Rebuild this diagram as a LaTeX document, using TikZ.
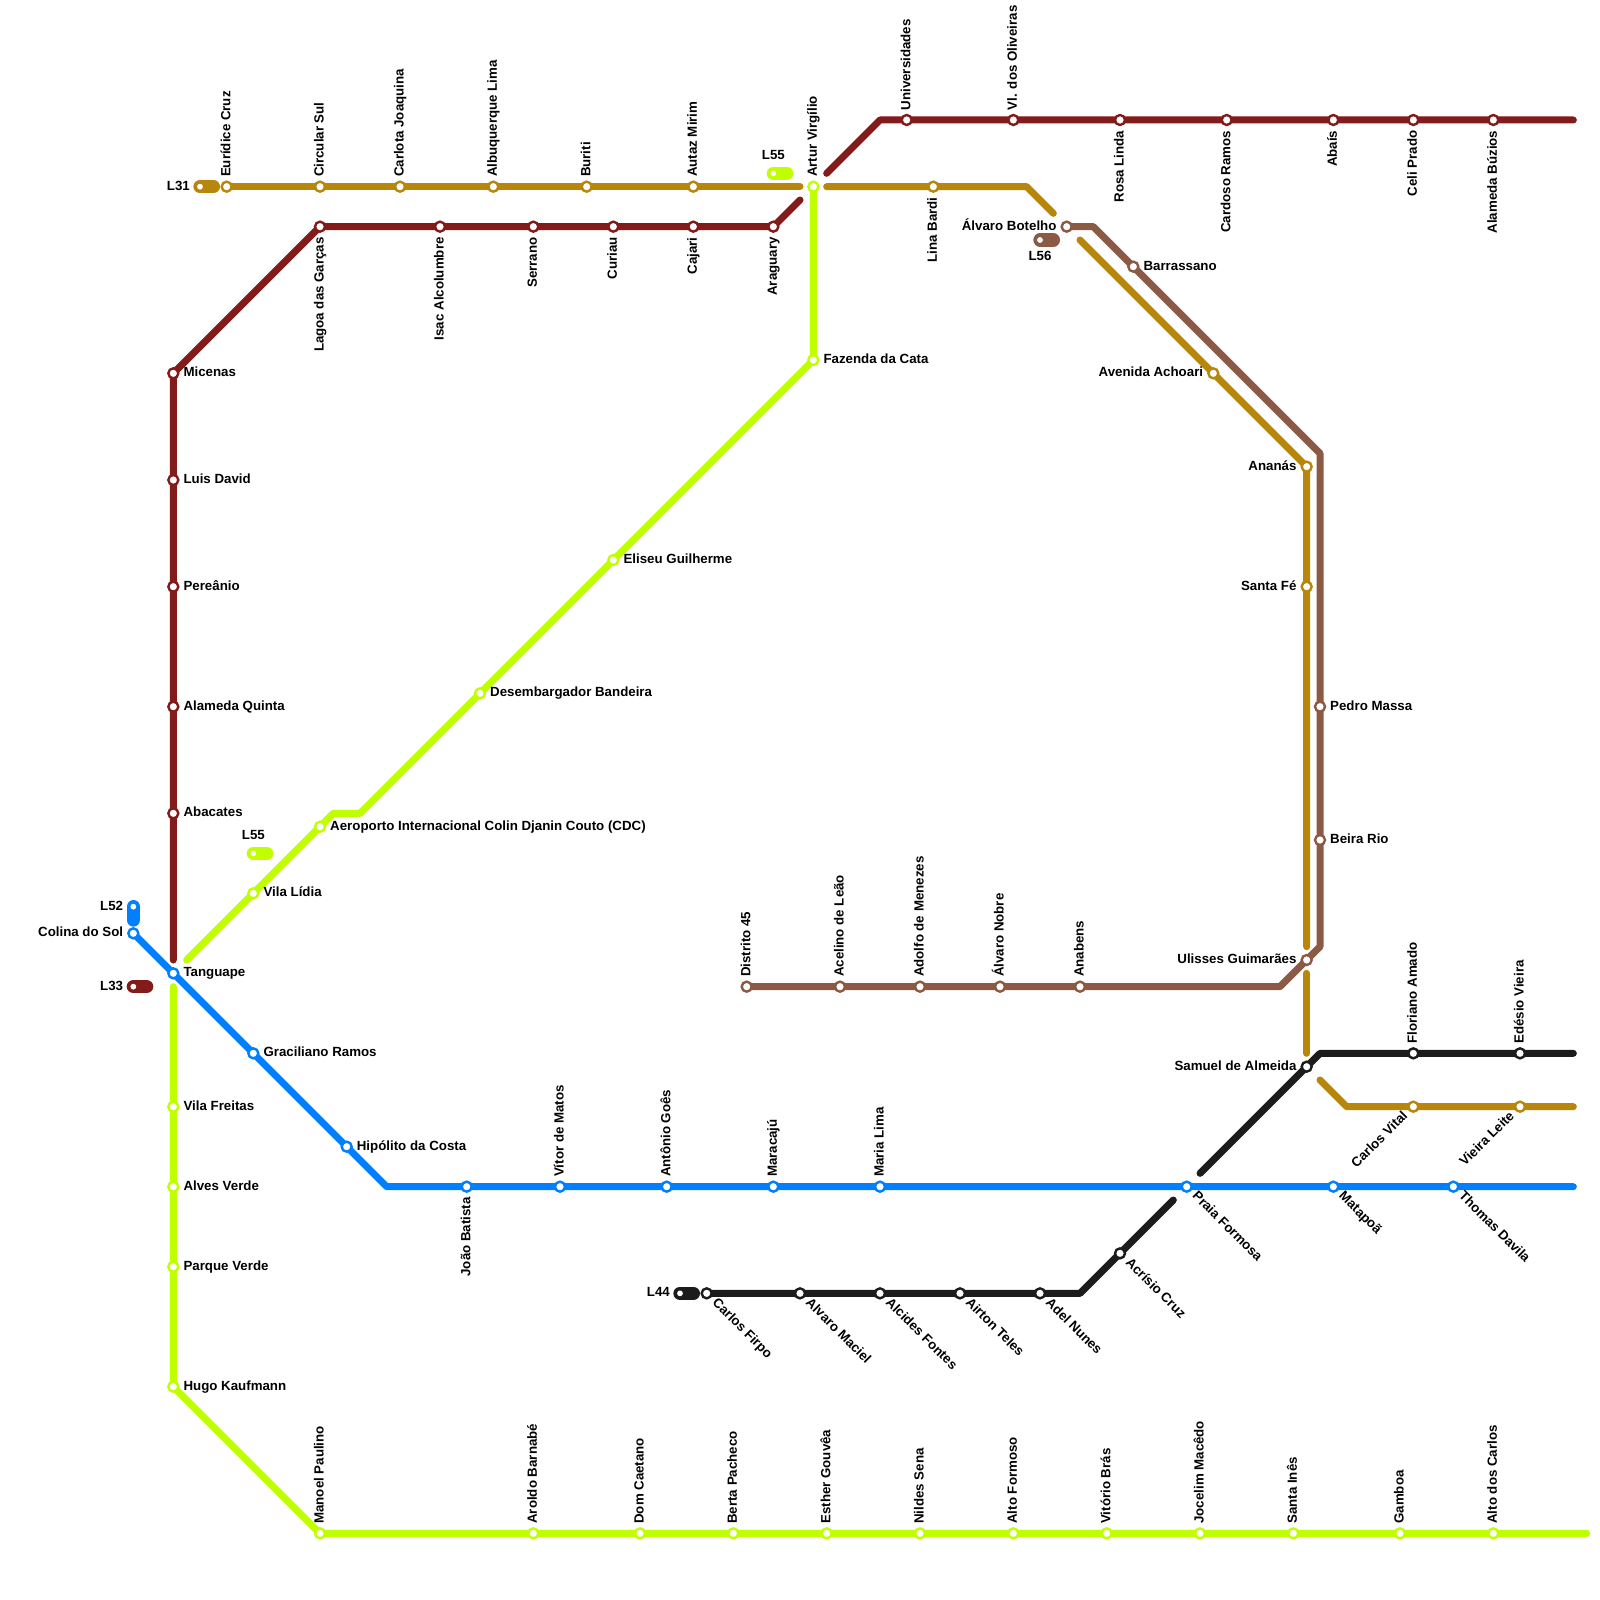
\documentclass[tikz,border=0pt]{standalone}
\usepackage{fontspec}
\setmainfont{Liberation Sans}
\usepackage{xcolor}
\usetikzlibrary{backgrounds}

\definecolor{railgold}{HTML}{B8860B}
\definecolor{railred}{HTML}{841B1B}
\definecolor{raillime}{HTML}{BFFF00}
\definecolor{railblue}{HTML}{007FFF}
\definecolor{railbrown}{HTML}{8B5A44}
\definecolor{railblack}{HTML}{1C1C1C}

\tikzset{
  rail/.style={draw=#1,line width=7pt,line cap=round,line join=round},
  pill/.style={draw=#1,line width=13.33pt,line cap=round},
  stn/.style={circle,fill=white,draw=#1,line width=2.4pt,minimum size=10pt,inner sep=0pt},
  dot/.style={circle,fill=white,minimum size=5.8pt,inner sep=0pt},
  txt/.style={font=\fontsize{13.3}{15}\selectfont\bfseries,inner sep=0pt,text=black},
  lblR/.style={txt,xshift=10pt,yshift=-3.6pt,anchor=base west},
  lblL/.style={txt,xshift=-10pt,yshift=-3.6pt,anchor=base east},
  lblU/.style={txt,xshift=3.6pt,yshift=9.5pt,rotate=90,anchor=base west},
  lblD/.style={txt,xshift=3.6pt,yshift=-10.5pt,rotate=90,anchor=base east},
  lblSE/.style={txt,xshift=5pt,yshift=-10pt,rotate=-45,anchor=base west},
  lblSW/.style={txt,xshift=-5pt,yshift=-10pt,rotate=45,anchor=base east},
}

\newcommand{\stops}[2]{%
  \foreach \x/\y/\nm/\dir/\txt in {#2} {
    \node[stn=#1] (\nm) at (\x,\y) {};
    \node[\dir] (\nm-t) at (\x,\y) {\txt};
  }}

\begin{document}
\begin{tikzpicture}[x=13.333pt,y=-13.333pt]
  \useasboundingbox (0,0) rectangle (120,120);

  \stops{railgold}{17/14/euri/lblU/Eurídice Cruz, 24/14/circ/lblU/Circular Sul,
    30/14/carl/lblU/Carlota Joaquina, 37/14/albu/lblU/Albuquerque Lima,
    44/14/buri/lblU/Buriti, 52/14/auta/lblU/Autaz Mirim,
    70/14/lina/lblD/Lina Bardi, 91/28/acho/lblL/Avenida Achoari,
    98/35/anan/lblL/Ananás, 98/44/sfe/lblL/Santa Fé,
    106/83/cvit/lblSW/Carlos Vital, 114/83/vlei/lblSW/Vieira Leite}

  \stops{railred}{13/61/abac/lblR/Abacates, 13/53/aqui/lblR/Alameda Quinta,
    13/44/pere/lblR/Pereânio, 13/36/ldav/lblR/Luis David, 13/28/mice/lblR/Micenas,
    24/17/lago/lblD/Lagoa das Garças, 33/17/isac/lblD/Isac Alcolumbre,
    40/17/serr/lblD/Serrano, 46/17/curi/lblD/Curiau, 52/17/caja/lblD/Cajari,
    58/17/arag/lblD/Araguary, 68/9/univ/lblU/Universidades,
    76/9/voli/lblU/Vl. dos Oliveiras, 84/9/rosa/lblD/Rosa Linda,
    92/9/card/lblD/Cardoso Ramos, 100/9/abai/lblD/Abaís,
    106/9/celi/lblD/Celi Prado, 112/9/abuz/lblD/Alameda Búzios}

  \stops{raillime}{19/67/vlid/lblR/Vila Lídia,
    24/62/aero/lblR/Aeroporto Internacional Colin Djanin Couto (CDC),
    36/52/dese/lblR/Desembargador Bandeira, 46/42/elis/lblR/Eliseu Guilherme,
    61/27/faze/lblR/Fazenda da Cata, 61/14/artu/lblU/Artur Virgílio,
    13/83/vfre/lblR/Vila Freitas, 13/89/aver/lblR/Alves Verde,
    13/95/pver/lblR/Parque Verde, 13/104/hugo/lblR/Hugo Kaufmann,
    24/115/mano/lblU/Manoel Paulino, 40/115/arol/lblU/Aroldo Barnabé,
    48/115/dcae/lblU/Dom Caetano, 55/115/bert/lblU/Berta Pacheco,
    62/115/esth/lblU/Esther Gouvêa, 69/115/nild/lblU/Nildes Sena,
    76/115/afor/lblU/Alto Formoso, 83/115/vito/lblU/Vitório Brás,
    90/115/joce/lblU/Jocelim Macêdo, 97/115/sine/lblU/Santa Inês,
    105/115/gamb/lblU/Gamboa, 112/115/acar/lblU/Alto dos Carlos}

  \stops{railblue}{10/70/coli/lblL/Colina do Sol, 13/73/tang/lblR/Tanguape,
    19/79/grac/lblR/Graciliano Ramos, 26/86/hipo/lblR/Hipólito da Costa,
    35/89/jbat/lblD/João Batista, 42/89/vmat/lblU/Vítor de Matos,
    50/89/agoe/lblU/Antônio Goês, 58/89/mara/lblU/Maracajú,
    66/89/mlim/lblU/Maria Lima, 89/89/prai/lblSE/Praia Formosa,
    100/89/mata/lblSE/Matapoã, 109/89/thom/lblSE/Thomas Davila}

  \stops{railbrown}{80/17/abot/lblL/Álvaro Botelho, 85/20/barr/lblR/Barrassano,
    99/53/pmas/lblR/Pedro Massa, 99/63/beir/lblR/Beira Rio,
    98/72/ulis/lblL/Ulisses Guimarães, 81/74/anab/lblU/Anabens,
    75/74/anob/lblU/Álvaro Nobre, 69/74/adol/lblU/Adolfo de Menezes,
    63/74/acel/lblU/Acelino de Leão, 56/74/dist/lblU/Distrito 45}

  \stops{railblack}{53/97/cfir/lblSE/Carlos Firpo, 60/97/amac/lblSE/Alvaro Maciel,
    66/97/afon/lblSE/Alcides Fontes, 72/97/atel/lblSE/Airton Teles,
    78/97/anun/lblSE/Adel Nunes, 84/94/acri/lblSE/Acrísio Cruz,
    98/80/samu/lblL/Samuel de Almeida, 106/79/flor/lblU/Floriano Amado,
    114/79/edes/lblU/Edésio Vieira}

  % free ends and bends
  \foreach \x/\y/\nm in {60/14/g1, 62/14/g2, 77/14/g3, 79/16/g4, 81/18/g5, 98/71/g6,
      98/73/g7, 98/79/g8, 99/81/g9, 101/83/g10, 118/83/g11,
      13/72/r1, 60/15/r2, 62/13/r3, 66/9/r4, 118/9/r5,
      14/72/l1, 25/61/l2, 27/61/l3, 13/74/l4, 119/115/l5,
      29/89/b1, 118/89/b2,
      82/17/m1, 99/34/m2, 99/71/m3, 96/74/m4,
      81/97/k1, 88/90/k2, 90/88/k3, 99/79/k4, 118/79/k5}
    \coordinate (\nm) at (\x,\y);

  % line chips
  \node[dot] (c31) at (15,14) {};
  \coordinate (c31e) at (16,14);
  \node[lblL] (c31-t) at (c31) {L31};
  \node[dot] (c33) at (10,74) {};
  \coordinate (c33e) at (11,74);
  \node[lblL] (c33-t) at (c33) {L33};
  \node[dot] (c44) at (51,97) {};
  \coordinate (c44e) at (52,97);
  \node[lblL] (c44-t) at (c44) {L44};
  \node[dot] (c52) at (10,68) {};
  \coordinate (c52e) at (10,69);
  \node[lblL] (c52-t) at (c52) {L52};
  \node[dot] (c55a) at (19,64) {};
  \coordinate (c55ae) at (20,64);
  \node[txt,anchor=base,yshift=14pt] (c55a-t) at (c55a) {L55};
  \node[dot] (c55b) at (58,13) {};
  \coordinate (c55be) at (59,13);
  \node[txt,anchor=base,yshift=14pt] (c55b-t) at (c55b) {L55};
  \node[dot] (c56) at (78,18) {};
  \coordinate (c56e) at (79,18);
  \node[txt,anchor=base,yshift=-20pt] (c56-t) at (c56) {L56};

  \begin{scope}[on background layer]
    \draw[rail=railgold] (euri.center) -- (circ.center) -- (carl.center) -- (albu.center) -- (buri.center) -- (auta.center) -- (g1);
    \draw[rail=railgold] (g2) -- (lina.center) -- (g3) -- (g4);
    \draw[rail=railgold] (g5) -- (acho.center) -- (anan.center) -- (sfe.center) -- (g6);
    \draw[rail=railgold] (g7) -- (g8);
    \draw[rail=railgold] (g9) -- (g10) -- (cvit.center) -- (vlei.center) -- (g11);

    \draw[rail=railred] (r1) -- (abac.center) -- (aqui.center) -- (pere.center) -- (ldav.center) -- (mice.center) -- (lago.center) -- (isac.center) -- (serr.center) -- (curi.center) -- (caja.center) -- (arag.center) -- (r2);
    \draw[rail=railred] (r3) -- (r4) -- (univ.center) -- (voli.center) -- (rosa.center) -- (card.center) -- (abai.center) -- (celi.center) -- (abuz.center) -- (r5);

    \draw[rail=raillime] (l1) -- (vlid.center) -- (aero.center) -- (l2) -- (l3) -- (dese.center) -- (elis.center) -- (faze.center) -- (artu.center);
    \draw[rail=raillime] (l4) -- (vfre.center) -- (aver.center) -- (pver.center) -- (hugo.center) -- (mano.center) -- (arol.center) -- (dcae.center) -- (bert.center) -- (esth.center) -- (nild.center) -- (afor.center) -- (vito.center) -- (joce.center) -- (sine.center) -- (gamb.center) -- (acar.center) -- (l5);

    \draw[rail=railblue] (coli.center) -- (tang.center) -- (grac.center) -- (hipo.center) -- (b1) -- (jbat.center) -- (vmat.center) -- (agoe.center) -- (mara.center) -- (mlim.center) -- (prai.center) -- (mata.center) -- (thom.center) -- (b2);

    \draw[rail=railbrown] (abot.center) -- (m1) -- (barr.center) -- (m2) -- (pmas.center) -- (beir.center) -- (m3) -- (ulis.center) -- (m4) -- (anab.center) -- (anob.center) -- (adol.center) -- (acel.center) -- (dist.center);

    \draw[rail=railblack] (cfir.center) -- (amac.center) -- (afon.center) -- (atel.center) -- (anun.center) -- (k1) -- (acri.center) -- (k2);
    \draw[rail=railblack] (k3) -- (samu.center) -- (k4) -- (flor.center) -- (edes.center) -- (k5);

    \draw[pill=railgold] (c31.center) -- (c31e);
    \draw[pill=railred] (c33.center) -- (c33e);
    \draw[pill=railblack] (c44.center) -- (c44e);
    \draw[pill=railblue] (c52.center) -- (c52e);
    \draw[pill=raillime] (c55a.center) -- (c55ae);
    \draw[pill=raillime] (c55b.center) -- (c55be);
    \draw[pill=railbrown] (c56.center) -- (c56e);
  \end{scope}
\end{tikzpicture}
\end{document}
